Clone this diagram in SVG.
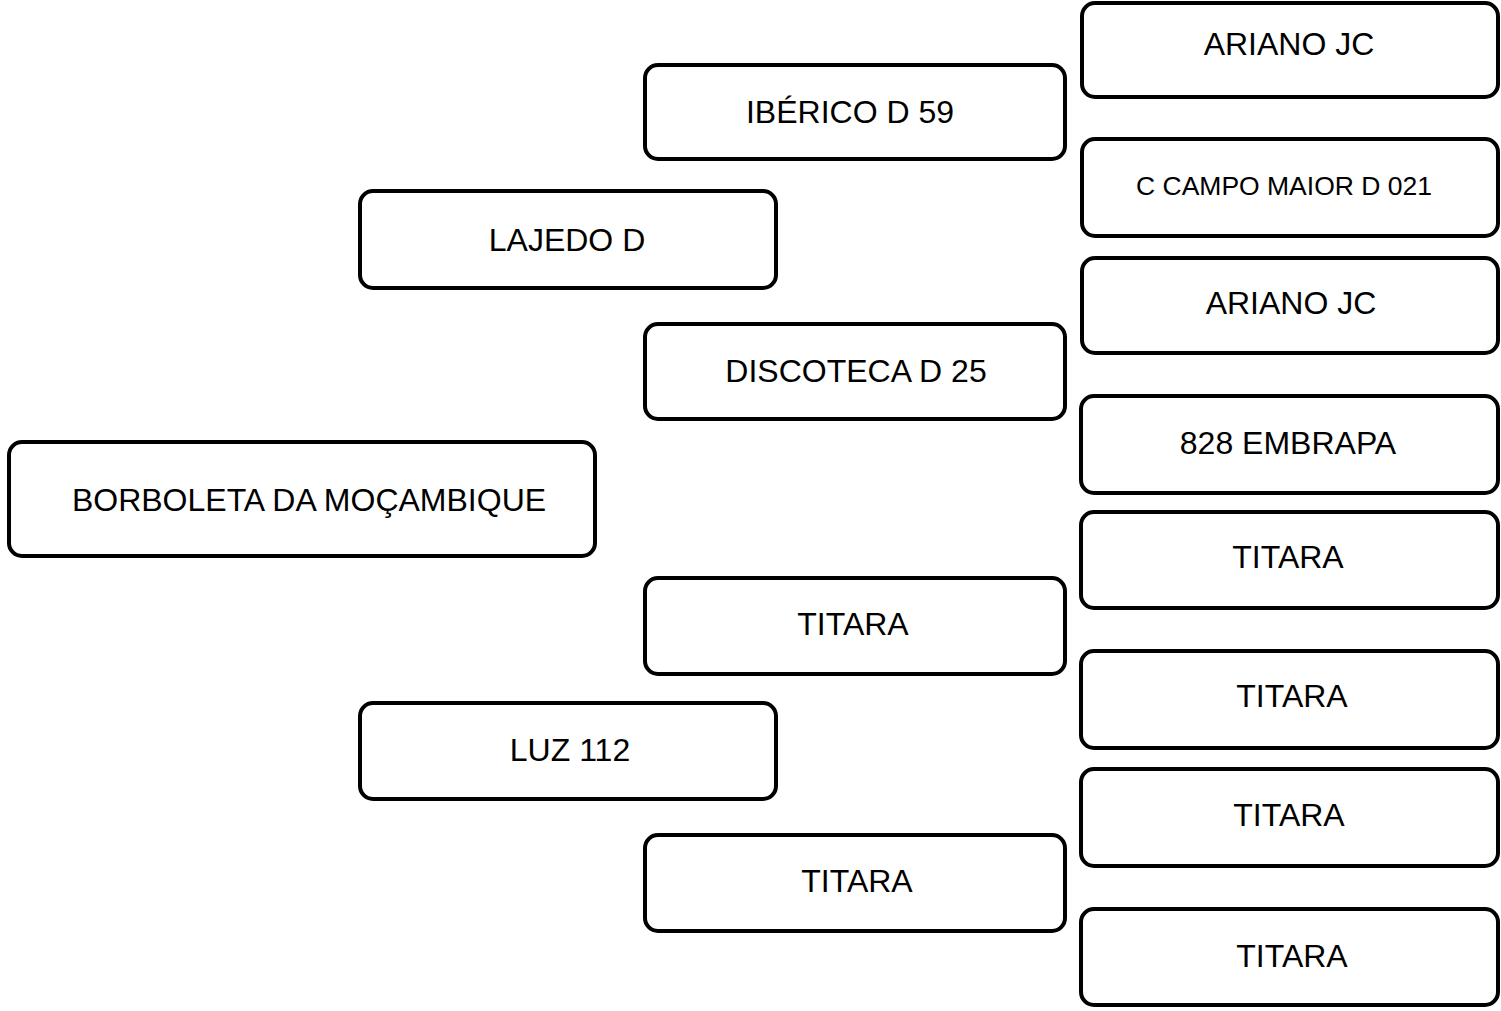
<svg xmlns="http://www.w3.org/2000/svg" width="1501" height="1011" viewBox="0 0 1501 1011">
<style>
.box{fill:#fff;stroke:#000;stroke-width:4;}
.t{font-family:"Liberation Sans",Arial,sans-serif;font-size:32px;fill:#000;text-anchor:middle;}
.s{font-size:26.5px;}
</style>
<rect width="1501" height="1011" fill="#fff"/>
<g id="connectors"></g>
<g id="n-borboleta"><rect class="box" x="9" y="442" width="586" height="114" rx="13"/><text class="t" x="309" y="511">BORBOLETA DA MOÇAMBIQUE</text></g>
<g id="n-lajedo"><rect class="box" x="360" y="191" width="416" height="97" rx="13"/><text class="t" x="567" y="251">LAJEDO D</text></g>
<g id="n-luz"><rect class="box" x="360" y="703" width="416" height="96" rx="13"/><text class="t" x="570" y="761">LUZ 112</text></g>
<g id="n-iberico"><rect class="box" x="645" y="65" width="420" height="94" rx="13"/><text class="t" x="850" y="123">IBÉRICO D 59</text></g>
<g id="n-discoteca"><rect class="box" x="645" y="324" width="420" height="95" rx="13"/><text class="t" x="856" y="382">DISCOTECA D 25</text></g>
<g id="n-titara-m1"><rect class="box" x="645" y="578" width="420" height="96" rx="13"/><text class="t" x="853" y="635">TITARA</text></g>
<g id="n-titara-m2"><rect class="box" x="645" y="835" width="420" height="96" rx="13"/><text class="t" x="857" y="892">TITARA</text></g>
<g id="n-ariano1"><rect class="box" x="1082" y="3" width="416" height="94" rx="13"/><text class="t" x="1289" y="55">ARIANO JC</text></g>
<g id="n-campo"><rect class="box" x="1082" y="139" width="416" height="97" rx="13"/><text class="t s" x="1284" y="195">C CAMPO MAIOR D 021</text></g>
<g id="n-ariano2"><rect class="box" x="1082" y="258" width="416" height="95" rx="13"/><text class="t" x="1291" y="314">ARIANO JC</text></g>
<g id="n-embrapa"><rect class="box" x="1081" y="396" width="417" height="97" rx="13"/><text class="t" x="1288" y="454">828 EMBRAPA</text></g>
<g id="n-titara-r1"><rect class="box" x="1081" y="512" width="417" height="96" rx="13"/><text class="t" x="1288" y="568">TITARA</text></g>
<g id="n-titara-r2"><rect class="box" x="1081" y="651" width="417" height="97" rx="13"/><text class="t" x="1292" y="707">TITARA</text></g>
<g id="n-titara-r3"><rect class="box" x="1081" y="769" width="417" height="97" rx="13"/><text class="t" x="1289" y="826">TITARA</text></g>
<g id="n-titara-r4"><rect class="box" x="1081" y="909" width="417" height="96" rx="13"/><text class="t" x="1292" y="967">TITARA</text></g>
</svg>
